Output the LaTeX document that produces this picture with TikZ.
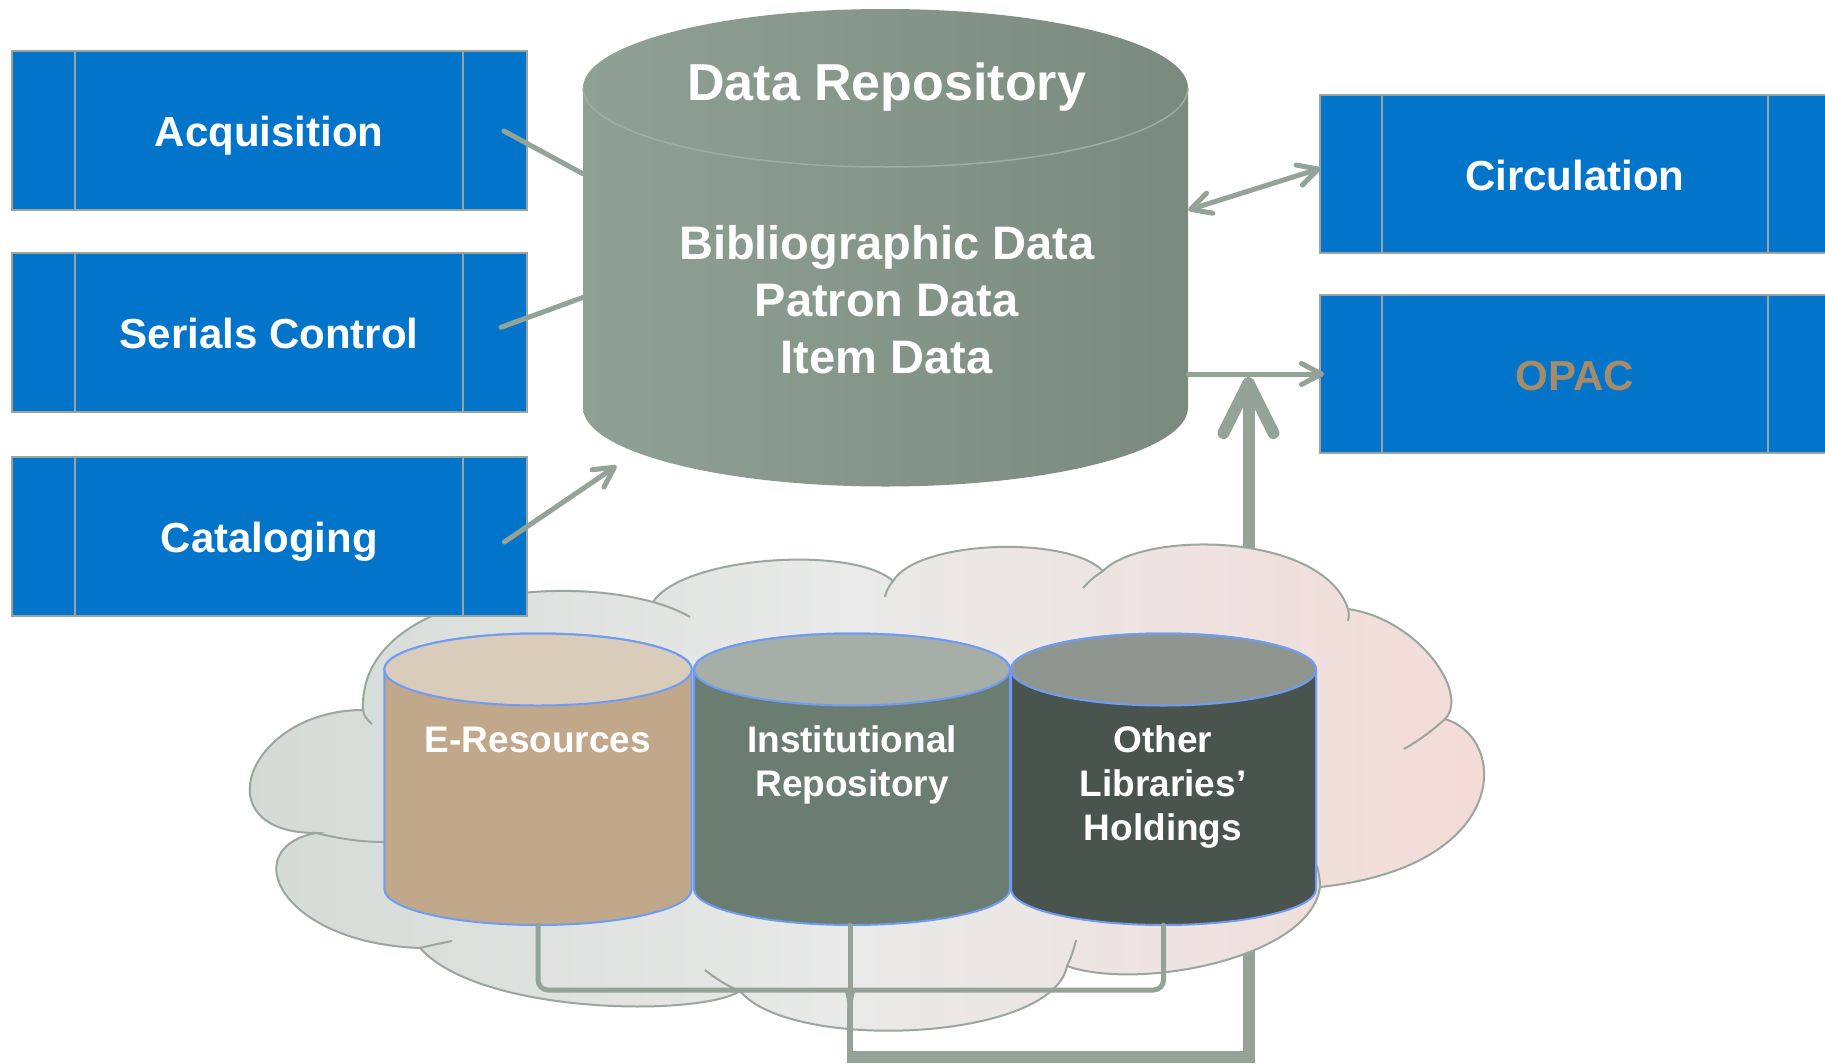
\documentclass[tikz,border=0pt]{standalone}
\usepackage{fontspec}
\setmainfont{Liberation Sans}
\usetikzlibrary{arrows.meta}
\definecolor{boxblue}{HTML}{0275CB}
\definecolor{boxedge}{HTML}{9AA39C}
\definecolor{conn}{HTML}{94A397}
\definecolor{opactext}{HTML}{A68B69}
\definecolor{cylA}{HTML}{8FA194}
\definecolor{cylB}{HTML}{7A8A7E}
\definecolor{cylrim}{HTML}{9FAEA3}
\definecolor{cloudedge}{HTML}{9AA69E}
\definecolor{cloudL}{HTML}{D3D9D5}
\definecolor{cloudM}{HTML}{E9EAE9}
\definecolor{cloudR}{HTML}{F4DBD7}
\definecolor{rimblue}{HTML}{6E9CF5}
\definecolor{eresbody}{HTML}{C1A88A}
\definecolor{erestop}{HTML}{D9CCBB}
\definecolor{irbody}{HTML}{6B7C71}
\definecolor{irtop}{HTML}{A5AFA7}
\definecolor{olbody}{HTML}{4A544E}
\definecolor{oltop}{HTML}{8F9690}
\begin{document}
\begin{tikzpicture}[x=1pt,y=-1pt,
  modbox/.style={draw=boxedge, line width=2pt, fill=boxblue, inner sep=0pt, text=white,
    font=\fontsize{42}{50}\selectfont\bfseries, text height=32pt, text depth=0pt},
  divider/.style={draw=boxedge, line width=2pt},
  ghost/.style={draw=none, fill=none, inner sep=0pt, rectangle},
  cyltext/.style={text=white, font=\fontsize{37}{44}\selectfont\bfseries, inner sep=0pt, align=center},
  link/.style={draw=conn, line width=5pt, line cap=round, line join=round},
  trunk/.style={draw=conn, line width=12pt, line cap=butt, line join=miter},
  sarrow/.style={-{Straight Barb[length=20pt,width=21pt,round]}},
  darrow/.style={{Straight Barb[length=20pt,width=21pt,round]}-{Straight Barb[length=20pt,width=21pt,round]}},
  barrow/.style={-{Straight Barb[length=50pt,width=50pt,round]}},
  cylshape/.style={draw=rimblue, line width=2pt}
]
\useasboundingbox (0,0) rectangle (1825,1063);
\fill[white] (0,0) rectangle (1825,1063);

% ---------- helper nodes for the cylinders ----------
\node[ghost, minimum width=605pt, minimum height=477.5pt] (repo) at (885.5,247.75) {};
\node[ghost, minimum width=307.4pt, minimum height=291.3pt] (eres) at (538,779.35) {};
\node[ghost, minimum width=316pt, minimum height=291.3pt] (ir) at (850,779.35) {};
\node[ghost, minimum width=305pt, minimum height=291.3pt] (olh) at (1163.5,779.35) {};
\coordinate (trunkcorner) at (850,1057);
\coordinate (joinpt) at (1248.5,377);
\coordinate (braceL) at (838,990);
\coordinate (braceR) at (862,990);
\coordinate (braceM) at (850,1008);

% ---------- trunk (behind the cloud) ----------
\draw[trunk, barrow] ([xshift=-3.3pt]trunkcorner) -| (joinpt);

% ---------- cloud ----------
\path[draw=cloudedge, line width=2pt, left color=cloudL, right color=cloudR, middle color=cloudM]
  (316,833) .. controls (201,833) and (248,710) .. (363,710)
  .. controls (358,601) and (543,572) .. (653,602)
  .. controls (683,556) and (853,545) .. (893,581)
  .. controls (918,540) and (1068,535) .. (1103,571)
  .. controls (1143,530) and (1323,532) .. (1348,609)
  .. controls (1418,619) and (1470,693) .. (1445,719)
  .. controls (1510,739) and (1510,867) .. (1320,887)
  .. controls (1310,959) and (1137,991) .. (1067,966)
  .. controls (1052,1042) and (790,1052) .. (740,991)
  .. controls (700,1017) and (480,1015) .. (420,948)
  .. controls (280,943) and (236,848) .. (316,833) -- cycle;
% inner puff strokes
\draw[cloudedge, line width=2pt]
  (316,833) .. controls (345,840) and (365,842) .. (384,842)
  (363,710) .. controls (364,716) and (367,720) .. (372,724)
  (420,948) .. controls (432,945) and (442,943) .. (452,941)
  (653,602) .. controls (667,606) and (680,611) .. (690,617)
  (893,581) .. controls (889,586) and (886,591) .. (885,597)
  (1103,571) .. controls (1095,576) and (1088,582) .. (1083,588)
  (1348,609) .. controls (1349,613) and (1349,617) .. (1348,621)
  (1445,719) .. controls (1432,731) and (1418,741) .. (1404,749)
  (1320,887) .. controls (1320,880) and (1319,873) .. (1317,866)
  (1067,966) .. controls (1071,958) and (1074,949) .. (1076,940)
  (740,991) .. controls (727,986) and (715,978) .. (705,970);

% ---------- left module boxes ----------
\node[modbox, minimum width=515.4pt, minimum height=159pt] (acq) at (269.3,130.5) {Acquisition};
\node[modbox, minimum width=515.4pt, minimum height=159pt] (ser) at (269.3,332) {Serials Control};
\node[modbox, minimum width=515.4pt, minimum height=159pt] (cat) at (269.3,536.5) {Cataloging};
\foreach \b in {acq,ser,cat}{
  \draw[divider] ([xshift=64pt]\b.north west) -- ([xshift=64pt]\b.south west)
                 ([xshift=-65pt]\b.north east) -- ([xshift=-65pt]\b.south east);
}

% ---------- right module boxes ----------
\node[modbox, minimum width=509.5pt, minimum height=157.2pt] (circ) at (1574.75,174) {Circulation};
\node[modbox, minimum width=509.5pt, minimum height=157.2pt, text=opactext] (opac) at (1574.75,374) {OPAC};
\foreach \b in {circ,opac}{
  \draw[divider] ([xshift=62.7pt]\b.north west) -- ([xshift=62.7pt]\b.south west)
                 ([xshift=-62.7pt]\b.north east) -- ([xshift=-62.7pt]\b.south east);
}

% ---------- data repository cylinder ----------
\shade[left color=cylA, right color=cylB]
  (583,88) -- (583,407.5) arc[start angle=180, end angle=0, x radius=302.5, y radius=79]
  -- (1188,88) arc[start angle=0, end angle=-180, x radius=302.5, y radius=79] -- cycle;
\draw[cylrim, line width=1.5pt] (583,88) arc[start angle=180, end angle=0, x radius=302.5, y radius=79];
\node[text=white, font=\fontsize{52}{62}\selectfont\bfseries, inner sep=0pt, anchor=base] (reptitle) at (886.7,100) {Data Repository};
\node[text=white, font=\fontsize{47}{56.7}\selectfont\bfseries, inner sep=0pt, anchor=base, align=center] (repdata) at (886.7,373.3) {Bibliographic Data\\Patron Data\\Item Data};

% ---------- small cylinders ----------
\filldraw[cylshape, fill=eresbody] (384.3,669.5) -- (384.3,889) arc[start angle=180, end angle=0, x radius=153.7, y radius=36]
  -- (691.7,669.5) arc[start angle=0, end angle=-180, x radius=153.7, y radius=36] -- cycle;
\filldraw[cylshape, fill=erestop] (538,669.5) ellipse[x radius=153.7, y radius=36];

\filldraw[cylshape, fill=irbody] (694,669.5) -- (694,889) arc[start angle=180, end angle=0, x radius=158, y radius=36]
  -- (1010,669.5) arc[start angle=0, end angle=-180, x radius=158, y radius=36] -- cycle;
\filldraw[cylshape, fill=irtop] (852,669.5) ellipse[x radius=158, y radius=36];

\filldraw[cylshape, fill=olbody] (1011,669.5) -- (1011,889) arc[start angle=180, end angle=0, x radius=152.5, y radius=36]
  -- (1316,669.5) arc[start angle=0, end angle=-180, x radius=152.5, y radius=36] -- cycle;
\filldraw[cylshape, fill=oltop] (1163.5,669.5) ellipse[x radius=152.5, y radius=36];

\node[cyltext, anchor=base] (erestxt) at (538,752.8) {E-Resources};
\node[cyltext, anchor=base] (irtxt) at (852,796.8) {Institutional\\Repository};
\node[cyltext, anchor=base] (olhtxt) at (1163,840.8) {Other\\Libraries’\\Holdings};

% ---------- connectors ----------
\draw[link] ([xshift=-24pt,yshift=-0.5pt]acq.east) -- ([yshift=74pt]repo.west);
\draw[link] ([xshift=-27pt,yshift=4.7pt]ser.east) -- ([yshift=-49.75pt]repo.west);
\draw[link, sarrow] ([xshift=-23.6pt,yshift=-5.5pt]cat.east) -- ([xshift=33.8pt,yshift=20.9pt]repo.south west);
\draw[link, darrow] ([yshift=37.75pt]repo.east) -- ([xshift=1.7pt,yshift=5.7pt]circ.west);
\draw[link, sarrow] ([yshift=-126.25pt]repo.east) -- ([xshift=5pt]opac.west);

% bracket from the three sources
\draw[link, rounded corners=10pt] (eres.south) |- (braceL) .. controls (846,990) and (850,996) .. (braceM);
\draw[link, rounded corners=10pt] (olh.south) |- (braceR) .. controls (854,990) and (850,996) .. (braceM);
\draw[link] (ir.south) -- (braceM);
\draw[draw=conn, line width=6.6pt, line cap=butt] (braceM) -- ([yshift=-6pt]trunkcorner);
\end{tikzpicture}
\end{document}
